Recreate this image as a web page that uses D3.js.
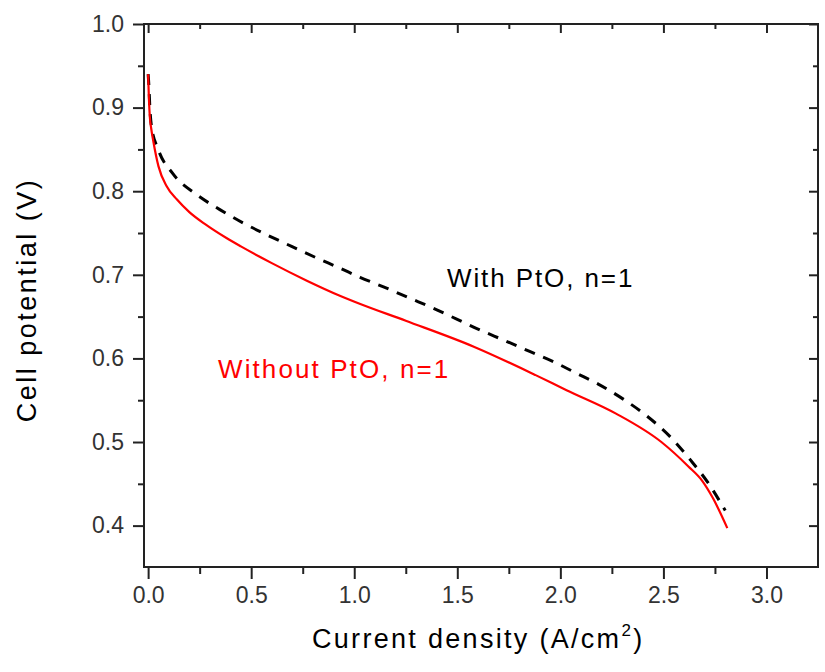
<!DOCTYPE html>
<html>
<head>
<meta charset="utf-8">
<script src="https://cdn.jsdelivr.net/npm/d3@7"></script>
<style>
  html, body { margin: 0; padding: 0; background: #fff; }
  svg { display: block; }
  text { font-family: "Liberation Sans", Arial, sans-serif; }
</style>
</head>
<body>
<svg id="chart" width="825" height="672"></svg>
<script>
// ---- Data ----
const withoutJ = [0.000, 0.004, 0.008, 0.015, 0.025, 0.050, 0.090, 0.140, 0.200, 0.280, 0.380, 0.450, 0.600, 0.770, 0.930, 1.020, 1.250, 1.580, 1.880, 2.030, 2.270, 2.490, 2.620, 2.690, 2.740, 2.810];
const withoutV = [0.940, 0.910, 0.890, 0.875, 0.860, 0.830, 0.806, 0.790, 0.775, 0.760, 0.744, 0.734, 0.714, 0.693, 0.675, 0.666, 0.645, 0.614, 0.580, 0.562, 0.534, 0.500, 0.471, 0.453, 0.433, 0.397];

const withJ = [0.000, 0.004, 0.008, 0.016, 0.049, 0.120, 0.235, 0.348, 0.461, 0.583, 0.696, 0.810, 0.930, 1.028, 1.157, 1.270, 1.384, 1.497, 1.610, 1.724, 1.854, 1.967, 2.080, 2.186, 2.307, 2.410, 2.530, 2.633, 2.720, 2.800];
const withV = [0.940, 0.925, 0.902, 0.878, 0.850, 0.821, 0.796, 0.778, 0.762, 0.747, 0.734, 0.721, 0.708, 0.697, 0.684, 0.672, 0.660, 0.647, 0.634, 0.622, 0.608, 0.596, 0.582, 0.569, 0.551, 0.533, 0.507, 0.478, 0.450, 0.418];

const xMajorTicks = [0.0, 0.5, 1.0, 1.5, 2.0, 2.5, 3.0];
const xMinorTicks = [0.25, 0.75, 1.25, 1.75, 2.25, 2.75];
const yMajorTicks = [0.4, 0.5, 0.6, 0.7, 0.8, 0.9, 1.0];
const yMinorTicks = [0.45, 0.55, 0.65, 0.75, 0.85, 0.95];

const xTitle = "Current density (A/cm";
const xTitleSup = "2";
const xTitleEnd = ")";
const yTitle = "Cell potential (V)";
const withLabel = "With PtO, n=1";
const withoutLabel = "Without PtO, n=1";

// ---- Layout ----
const svg = d3.select("#chart");
const L = 144, R = 818, T = 24, B = 567;
const x = d3.scaleLinear().domain([-0.02, 3.25]).range([L, R]);
const y = d3.scaleLinear().domain([0.3505, 1.0]).range([B, T]);

const axisColor = "#222";

// Frame
svg.append("rect")
  .attr("x", L).attr("y", T).attr("width", R - L).attr("height", B - T)
  .attr("fill", "none").attr("stroke", axisColor).attr("stroke-width", 2);

function styleAxis(g) {
  g.select(".domain").remove();
  g.selectAll(".tick line").attr("stroke", axisColor).attr("stroke-width", 2);
  g.selectAll(".tick text").attr("fill", "#333")
    .style("font-family", '"Liberation Sans", Arial, sans-serif')
    .style("font-size", "23px");
}

// Bottom axis (outward)
svg.append("g").attr("transform", `translate(0,${B})`)
  .call(d3.axisBottom(x).tickValues(xMajorTicks).tickSize(12).tickPadding(8).tickFormat(d3.format(".1f")))
  .call(styleAxis);
svg.append("g").attr("transform", `translate(0,${B})`)
  .call(d3.axisBottom(x).tickValues(xMinorTicks).tickSize(7).tickFormat(""))
  .call(styleAxis);
// Top axis (inward)
svg.append("g").attr("transform", `translate(0,${T})`)
  .call(d3.axisBottom(x).tickValues(xMajorTicks).tickSize(9).tickFormat(""))
  .call(styleAxis);
svg.append("g").attr("transform", `translate(0,${T})`)
  .call(d3.axisBottom(x).tickValues(xMinorTicks).tickSize(5).tickFormat(""))
  .call(styleAxis);

// Left axis (outward)
svg.append("g").attr("transform", `translate(${L},0)`)
  .call(d3.axisLeft(y).tickValues(yMajorTicks).tickSize(11).tickPadding(9).tickFormat(d3.format(".1f")))
  .call(styleAxis);
svg.append("g").attr("transform", `translate(${L},0)`)
  .call(d3.axisLeft(y).tickValues(yMinorTicks).tickSize(6).tickFormat(""))
  .call(styleAxis);
// Right axis (inward)
svg.append("g").attr("transform", `translate(${R},0)`)
  .call(d3.axisLeft(y).tickValues(yMajorTicks).tickSize(9).tickFormat(""))
  .call(styleAxis);
svg.append("g").attr("transform", `translate(${R},0)`)
  .call(d3.axisLeft(y).tickValues(yMinorTicks).tickSize(5).tickFormat(""))
  .call(styleAxis);

// Curves
const line = d3.line().x(d => x(d[0])).y(d => y(d[1])).curve(d3.curveMonotoneX);
const withoutData = withoutJ.map((j, i) => [j, withoutV[i]]);
const withData = withJ.map((j, i) => [j, withV[i]]);

svg.append("path").datum(withData)
  .attr("d", line).attr("fill", "none")
  .attr("stroke", "#000").attr("stroke-width", 3)
  .attr("stroke-dasharray", "11,9");

svg.append("path").datum(withoutData)
  .attr("d", line).attr("fill", "none")
  .attr("stroke", "#ff0000").attr("stroke-width", 2.2);

// Annotations
svg.append("text").attr("x", 447).attr("y", 287)
  .attr("fill", "#000").style("font-size", "26px").style("letter-spacing", "1.9px")
  .text(withLabel);
svg.append("text").attr("x", 218).attr("y", 378)
  .attr("fill", "#ff0000").style("font-size", "26px").style("letter-spacing", "2.1px")
  .text(withoutLabel);

// Axis titles
const xt = svg.append("text").attr("x", 312).attr("y", 648)
  .attr("fill", "#000").style("font-size", "27px").style("letter-spacing", "2.3px");
xt.append("tspan").text(xTitle);
xt.append("tspan").attr("dy", -12).style("font-size", "17px").text(xTitleSup);
xt.append("tspan").attr("dy", 12).text(xTitleEnd);

svg.append("text")
  .attr("transform", "translate(36,300) rotate(-90)")
  .attr("text-anchor", "middle")
  .attr("fill", "#000").style("font-size", "27px").style("letter-spacing", "2.5px")
  .text(yTitle);
</script>
</body>
</html>
